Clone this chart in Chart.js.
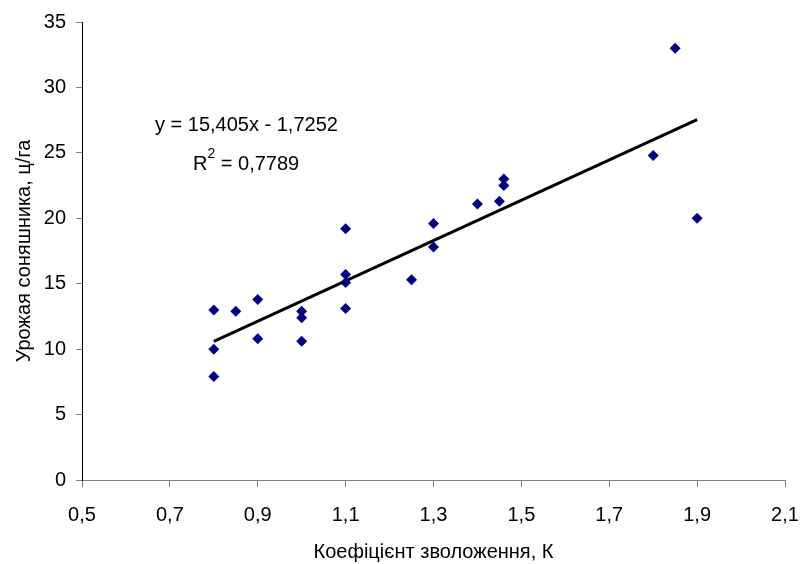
<!DOCTYPE html>
<html>
<head>
<meta charset="utf-8">
<script src="https://cdn.jsdelivr.net/npm/chart.js"></script>
<style>
  html, body { margin: 0; padding: 0; background: #fff; }
</style>
</head>
<body>
<canvas id="chart" width="802" height="564"></canvas>
<script>
// values
const coefK = [0.8, 0.8, 0.8, 0.85, 0.9, 0.9, 1.0, 1.0, 1.0, 1.1, 1.1, 1.1, 1.1, 1.25, 1.3, 1.3, 1.4, 1.45, 1.46, 1.46, 1.8, 1.85, 1.9];
const yieldVals = [13.0, 10.0, 7.9, 12.9, 13.8, 10.8, 12.9, 12.4, 10.6, 19.2, 15.7, 15.1, 13.1, 15.3, 19.6, 17.8, 21.1, 21.3, 22.5, 23.0, 24.8, 33.0, 20.0];
const trendSlope = 15.405;
const trendIntercept = -1.7252;
const trendRange = [0.8, 1.9];
const eqLabel = "y = 15,405x - 1,7252";
const r2Value = "0,7789";

const fontFamily = "'Liberation Sans', Arial, sans-serif";
Chart.defaults.font.family = fontFamily;
Chart.defaults.font.size = 20;
Chart.defaults.color = "#000";

const points = coefK.map((k, i) => ({x: k, y: yieldVals[i]}));
const trend = trendRange.map(k => ({x: k, y: trendSlope * k + trendIntercept}));

// trendline equation text, Excel style
const eqPlugin = {
    id: "eqText",
    afterDatasetsDraw(chart) {
        const ctx = chart.ctx;
        ctx.save();
        ctx.fillStyle = "#000";
        ctx.textBaseline = "alphabetic";
        ctx.textAlign = "left";
        ctx.font = "20px " + fontFamily;
        ctx.fillText(eqLabel, 155, 131);
        ctx.fillText("R", 193, 170);
        const rw = ctx.measureText("R").width;
        ctx.font = "14px " + fontFamily;
        ctx.fillText("2", 193 + rw, 158);
        const sw = ctx.measureText("2").width;
        ctx.font = "20px " + fontFamily;
        ctx.fillText(" = " + r2Value, 193 + rw + sw, 170);
        ctx.restore();
    }
};

new Chart(document.getElementById("chart").getContext("2d"), {
    type: "scatter",
    data: {
        datasets: [{
            label: "data",
            data: points,
            pointStyle: "rectRot",
            pointRadius: 5.5,
            pointHoverRadius: 5.5,
            backgroundColor: "#000080",
            borderColor: "#000080",
            borderWidth: 0,
        }, {
            type: "line",
            label: "trend",
            data: trend,
            borderColor: "#000",
            borderWidth: 3,
            pointRadius: 0,
            fill: false,
        }]
    },
    options: {
        responsive: false,
        animation: false,
        layout: { padding: { top: 22, right: 17, left: 0, bottom: 0 } },
        scales: {
            x: {
                type: "linear",
                min: 0.5,
                max: 2.1,
                ticks: {
                    stepSize: 0.2,
                    padding: 16,
                    callback: v => v.toFixed(1).replace(".", ","),
                },
                grid: { drawOnChartArea: false, drawTicks: true, tickLength: 7, color: "#808080" },
                border: { display: true, color: "#808080", width: 1 },
                title: { display: true, text: "Коефіцієнт зволоження, К", padding: { top: 8, bottom: 0 } },
                afterFit: s => { s.height = 84; s.paddingLeft = 0; s.paddingRight = 0; },
            },
            y: {
                min: 0,
                max: 35,
                ticks: { stepSize: 5, padding: 10 },
                grid: { drawOnChartArea: false, drawTicks: true, tickLength: 6, color: "#808080" },
                border: { display: true, color: "#000", width: 1 },
                title: { display: true, text: "Урожая соняшника, ц/га", padding: { top: 12, bottom: 4 } },
                afterFit: s => { s.width = 82; s.paddingTop = 0; s.paddingBottom = 0; },
            }
        },
        plugins: {
            legend: { display: false },
            tooltip: { enabled: false },
        }
    },
    plugins: [eqPlugin]
});
</script>
</body>
</html>
